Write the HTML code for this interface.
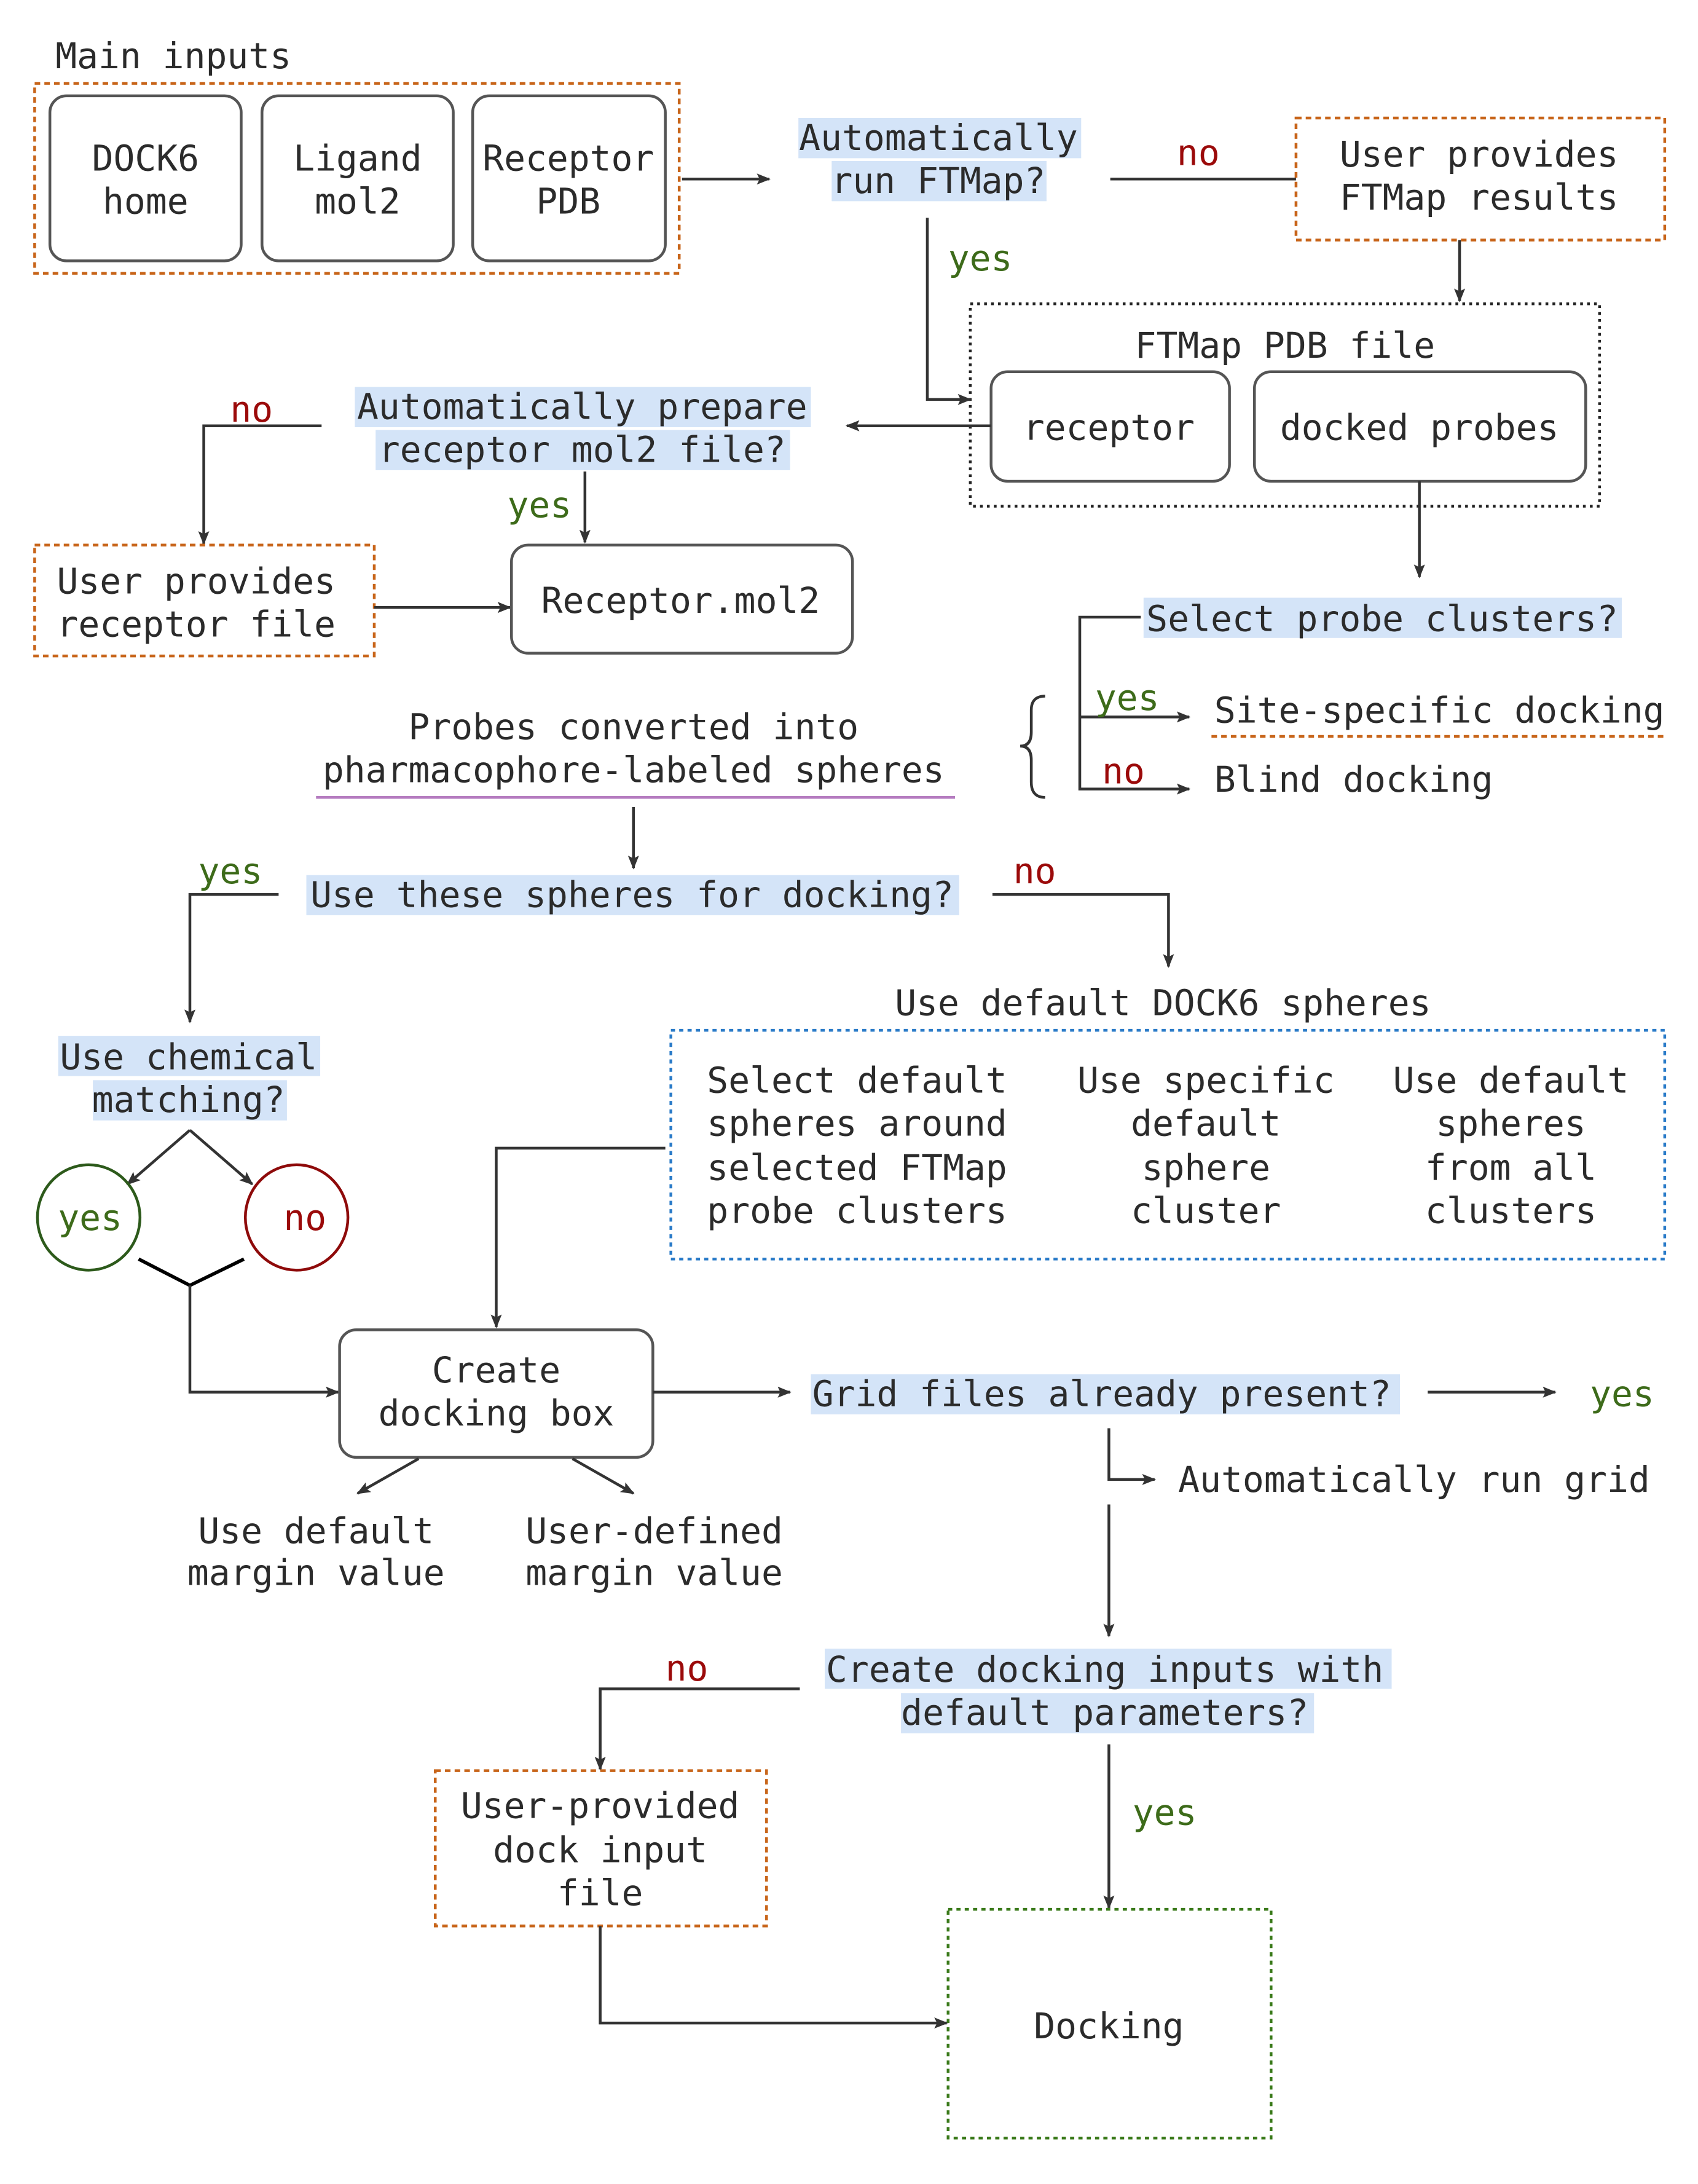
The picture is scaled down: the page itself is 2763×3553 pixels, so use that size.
<!DOCTYPE html>
<html><head><meta charset="utf-8"><style>
html,body{margin:0;padding:0;background:#fff}
svg{display:block}
text{font-family:"DejaVu Sans Mono","Liberation Mono",monospace;font-size:25.7px;fill:#2b2b2b}
.c{text-anchor:middle}
.g{fill:#3d6b1a}.r{fill:#9b0a0a}
.l{stroke:#333;stroke-width:2;fill:none}
.hl{fill:#d4e4f8}
.bx{fill:#fff;stroke:#555;stroke-width:2}
.or{fill:none;stroke:#c8651a;stroke-width:2;stroke-dasharray:4 3}
</style></head><body>
<svg width="2763" height="3553" viewBox="0 0 1225 1575" xmlns="http://www.w3.org/2000/svg">
<defs><marker id="a" markerWidth="10" markerHeight="10" refX="9" refY="5" orient="auto" markerUnits="userSpaceOnUse" viewBox="0 0 10 10"><path d="M0,1 L10,5 L0,9 L2,5z" fill="#333"/></marker></defs>
<!-- highlights -->
<rect class="hl" x="576" y="85" width="204" height="29"/><rect class="hl" x="600" y="116" width="155" height="29"/>
<rect class="hl" x="256" y="279" width="329" height="29"/><rect class="hl" x="271" y="310" width="299" height="29"/>
<rect class="hl" x="825" y="431" width="345" height="29"/>
<rect class="hl" x="221" y="631" width="471" height="29"/>
<rect class="hl" x="42" y="747" width="189" height="29"/><rect class="hl" x="67" y="779" width="140" height="29"/>
<rect class="hl" x="585" y="991" width="425" height="29"/>
<rect class="hl" x="595" y="1189" width="409" height="29"/><rect class="hl" x="650" y="1221" width="298" height="29"/>

<text x="40" y="49">Main inputs</text>
<rect class="or" x="25" y="60" width="465" height="137"/>
<rect class="bx" x="36" y="69" width="138" height="119" rx="12"/>
<rect class="bx" x="189" y="69" width="138" height="119" rx="12"/>
<rect class="bx" x="341" y="69" width="139" height="119" rx="12"/>
<text class="c" x="105" y="123">DOCK6</text><text class="c" x="105" y="154">home</text>
<text class="c" x="258" y="123">Ligand</text><text class="c" x="258" y="154">mol2</text>
<text class="c" x="410" y="123">Receptor</text><text class="c" x="410" y="154">PDB</text>
<path class="l" d="M492,129H555" marker-end="url(#a)"/>
<text class="c" x="677" y="108">Automatically</text><text class="c" x="677" y="139">run FTMap?</text>
<text class="r" x="849" y="119">no</text>
<path class="l" d="M801,129H935"/>
<rect class="or" x="935" y="85" width="266" height="88"/>
<text class="c" x="1067" y="120">User provides</text><text class="c" x="1067" y="151">FTMap results</text>
<path class="l" d="M1053,173V217" marker-end="url(#a)"/>
<rect x="700" y="219" width="454" height="146" fill="none" stroke="#222" stroke-width="2" stroke-dasharray="2 3"/>
<text class="c" x="927" y="258">FTMap PDB file</text>
<rect class="bx" x="715" y="268" width="172" height="79" rx="12"/>
<rect class="bx" x="905" y="268" width="239" height="79" rx="12"/>
<text class="c" x="800" y="317">receptor</text><text class="c" x="1024" y="317">docked probes</text>
<text class="g" x="684" y="195">yes</text>
<path class="l" d="M669,157V288H700" marker-end="url(#a)"/>
<path class="l" d="M715,307H611" marker-end="url(#a)"/>
<text class="c" x="420" y="302">Automatically prepare</text><text class="c" x="420" y="333">receptor mol2 file?</text>
<text class="r" x="166" y="304">no</text>
<path class="l" d="M232,307H147V392" marker-end="url(#a)"/>
<text class="g" x="366" y="373">yes</text>
<path class="l" d="M422,340V391" marker-end="url(#a)"/>
<rect class="or" x="25" y="393" width="245" height="80"/>
<text x="41" y="428">User provides</text><text x="41" y="459">receptor file</text>
<path class="l" d="M270,438H368" marker-end="url(#a)"/>
<rect class="bx" x="369" y="393" width="246" height="78" rx="12"/>
<text class="c" x="491" y="442">Receptor.mol2</text>
<path class="l" d="M1024,347V416" marker-end="url(#a)"/>
<text x="827" y="455">Select probe clusters?</text>
<path class="l" d="M823,445H779V569H858" marker-end="url(#a)"/>
<path class="l" d="M779,517H858" marker-end="url(#a)"/>
<text class="g" x="790" y="512">yes</text><text class="r" x="795" y="565">no</text>
<path class="l" d="M754,502Q744,502 744,512V528Q744,538 736,538Q744,538 744,548V564Q744,575 754,575" stroke-width="1.5"/>
<text x="876" y="521">Site-specific docking</text>
<path class="or" d="M874,531H1203"/>
<text x="876" y="571">Blind docking</text>
<text class="c" x="457" y="533">Probes converted into</text>
<text class="c" x="457" y="564">pharmacophore-labeled spheres</text>
<path d="M228,575H689" stroke="#b57cc0" stroke-width="2"/>
<path class="l" d="M457,582V626" marker-end="url(#a)"/>
<text class="c" x="456" y="654">Use these spheres for docking?</text>
<text class="g" x="143" y="637">yes</text>
<path class="l" d="M201,645H137V737" marker-end="url(#a)"/>
<text class="r" x="731" y="637">no</text>
<path class="l" d="M716,645H843V697" marker-end="url(#a)"/>
<text class="c" x="839" y="732">Use default DOCK6 spheres</text>
<rect x="484" y="743" width="717" height="165" fill="none" stroke="#2a7bc8" stroke-width="2" stroke-dasharray="3 3"/>
<text x="510" y="788">Select default</text><text x="510" y="819">spheres around</text><text x="510" y="851">selected FTMap</text><text x="510" y="882">probe clusters</text>
<text class="c" x="870" y="788">Use specific</text><text class="c" x="870" y="819">default</text><text class="c" x="870" y="851">sphere</text><text class="c" x="870" y="882">cluster</text>
<text class="c" x="1090" y="788">Use default</text><text class="c" x="1090" y="819">spheres</text><text class="c" x="1090" y="851">from all</text><text class="c" x="1090" y="882">clusters</text>
<path class="l" d="M480,828H358V957" marker-end="url(#a)"/>
<text class="c" x="136" y="771">Use chemical</text><text class="c" x="136" y="802">matching?</text>
<path class="l" d="M137,815L92,854" marker-end="url(#a)"/>
<path class="l" d="M137,815L182,854" marker-end="url(#a)"/>
<ellipse cx="64" cy="878" rx="37" ry="38" fill="none" stroke="#2d5a1b" stroke-width="2"/>
<ellipse cx="214" cy="878" rx="37" ry="38" fill="none" stroke="#8e0a0a" stroke-width="2"/>
<text class="c g" x="65" y="887">yes</text><text class="c r" x="220" y="887">no</text>
<path d="M100,908L137,927L176,908" stroke="#000" stroke-width="2.5" fill="none"/>
<path class="l" d="M137,927V1004H244" marker-end="url(#a)"/>
<rect class="bx" x="245" y="959" width="226" height="92" rx="12"/>
<text class="c" x="358" y="997">Create</text><text class="c" x="358" y="1028">docking box</text>
<path class="l" d="M471,1004H570" marker-end="url(#a)"/>
<text x="586" y="1014">Grid files already present?</text>
<path class="l" d="M1030,1004H1122" marker-end="url(#a)"/>
<text class="g" x="1147" y="1014">yes</text>
<path class="l" d="M800,1030V1067H833" marker-end="url(#a)"/>
<text x="850" y="1076">Automatically run grid</text>
<path class="l" d="M800,1085V1180" marker-end="url(#a)"/>
<path class="l" d="M302,1052L258,1077" marker-end="url(#a)"/>
<path class="l" d="M413,1052L457,1077" marker-end="url(#a)"/>
<text class="c" x="228" y="1113">Use default</text><text class="c" x="228" y="1143">margin value</text>
<text class="c" x="472" y="1113">User-defined</text><text class="c" x="472" y="1143">margin value</text>
<text class="c" x="797" y="1213">Create docking inputs with</text><text class="c" x="797" y="1244">default parameters?</text>
<text class="r" x="480" y="1212">no</text>
<path class="l" d="M577,1218H433V1276" marker-end="url(#a)"/>
<rect class="or" x="314" y="1277" width="239" height="112"/>
<text class="c" x="433" y="1311">User-provided</text><text class="c" x="433" y="1343">dock input</text><text class="c" x="433" y="1374">file</text>
<path class="l" d="M800,1258V1376" marker-end="url(#a)"/>
<text class="g" x="817" y="1316">yes</text>
<rect x="684" y="1377" width="233" height="165" fill="none" stroke="#3a7a1a" stroke-width="2" stroke-dasharray="3 3"/>
<text class="c" x="800" y="1470">Docking</text>
<path class="l" d="M433,1389V1459H683" marker-end="url(#a)"/>
</svg>
</body></html>
